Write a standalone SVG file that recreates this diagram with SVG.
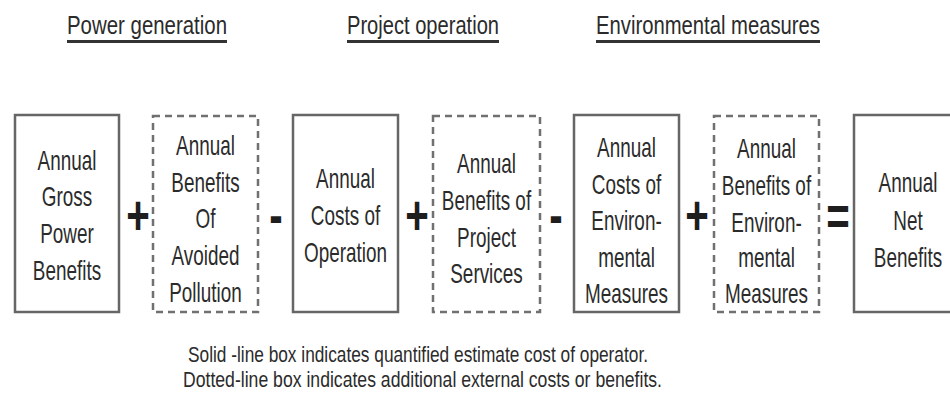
<svg xmlns="http://www.w3.org/2000/svg" width="950" height="406" viewBox="0 0 950 406">
<style>
  .bg { fill: #ffffff; }
  .solid { fill: #ffffff; stroke: #666666; stroke-width: 2.5; }
  .dash { fill: #ffffff; stroke: #707070; stroke-width: 2.5; stroke-dasharray: 7 5; }
  .t { font-family: "Liberation Sans", Arial, sans-serif; font-size: 27px; fill: #2b2b2b; text-anchor: middle; }
  .op { font-family: "Liberation Sans", Arial, sans-serif; font-size: 56px; font-weight: bold; fill: #1e1e1e; text-anchor: middle; }
  .hd { font-family: "Liberation Sans", Arial, sans-serif; font-size: 26px; fill: #2b2b2b; }
  .ul { stroke: #333333; stroke-width: 3; }
  .ft { font-family: "Liberation Sans", Arial, sans-serif; font-size: 22px; fill: #2b2b2b; }
</style>
<rect class="bg" x="0" y="0" width="950" height="406"/>

<g id="headers">
  <text class="hd" x="67" y="34" textLength="160" lengthAdjust="spacingAndGlyphs">Power generation</text>
  <line class="ul" x1="67" y1="41.5" x2="227" y2="41.5"/>
  <text class="hd" x="347" y="34" textLength="152" lengthAdjust="spacingAndGlyphs">Project operation</text>
  <line class="ul" x1="347" y1="41.5" x2="499" y2="41.5"/>
  <text class="hd" x="596" y="34" textLength="224" lengthAdjust="spacingAndGlyphs">Environmental measures</text>
  <line class="ul" x1="596" y1="41.5" x2="820" y2="41.5"/>
</g>

<g id="box-gross-power">
  <rect class="solid" x="15" y="115" width="104" height="197"/>
  <text class="t" transform="translate(67 0) scale(0.7 1)"><tspan x="0" y="170">Annual</tspan><tspan x="0" y="206">Gross</tspan><tspan x="0" y="243">Power</tspan><tspan x="0" y="280">Benefits</tspan></text>
</g>

<g id="box-avoided-pollution">
  <rect class="dash" x="153" y="116" width="105" height="196"/>
  <text class="t" transform="translate(205.5 0) scale(0.7 1)"><tspan x="0" y="155">Annual</tspan><tspan x="0" y="192">Benefits</tspan><tspan x="0" y="228">Of</tspan><tspan x="0" y="265">Avoided</tspan><tspan x="0" y="302">Pollution</tspan></text>
</g>

<g id="box-costs-operation">
  <rect class="solid" x="293" y="115" width="105" height="197"/>
  <text class="t" transform="translate(345.5 0) scale(0.7 1)"><tspan x="0" y="188">Annual</tspan><tspan x="0" y="225">Costs of</tspan><tspan x="0" y="262">Operation</tspan></text>
</g>

<g id="box-project-services">
  <rect class="dash" x="433" y="116" width="107" height="196"/>
  <text class="t" transform="translate(486.5 0) scale(0.7 1)"><tspan x="0" y="173">Annual</tspan><tspan x="0" y="210">Benefits of</tspan><tspan x="0" y="247">Project</tspan><tspan x="0" y="283">Services</tspan></text>
</g>

<g id="box-costs-env">
  <rect class="solid" x="574" y="115" width="105" height="197"/>
  <text class="t" transform="translate(626.5 0) scale(0.7 1)"><tspan x="0" y="157">Annual</tspan><tspan x="0" y="194">Costs of</tspan><tspan x="0" y="230">Environ-</tspan><tspan x="0" y="267">mental</tspan><tspan x="0" y="303">Measures</tspan></text>
</g>

<g id="box-benefits-env">
  <rect class="dash" x="714" y="116" width="105" height="196"/>
  <text class="t" transform="translate(766.5 0) scale(0.7 1)"><tspan x="0" y="158">Annual</tspan><tspan x="0" y="195">Benefits of</tspan><tspan x="0" y="232">Environ-</tspan><tspan x="0" y="267">mental</tspan><tspan x="0" y="303">Measures</tspan></text>
</g>

<g id="box-net-benefits">
  <rect class="solid" x="854" y="115" width="108" height="197"/>
  <text class="t" transform="translate(908 0) scale(0.7 1)"><tspan x="0" y="192">Annual</tspan><tspan x="0" y="230">Net</tspan><tspan x="0" y="267">Benefits</tspan></text>
</g>

<g id="connectors">
  <text class="op" transform="translate(138 234) scale(0.72 1)" x="0" y="0">+</text>
  <text class="op" transform="translate(276 234) scale(0.72 1)" x="0" y="0">-</text>
  <text class="op" transform="translate(417 234) scale(0.72 1)" x="0" y="0">+</text>
  <text class="op" transform="translate(556 234) scale(0.72 1)" x="0" y="0">-</text>
  <text class="op" transform="translate(697 234) scale(0.72 1)" x="0" y="0">+</text>
  <text class="op" transform="translate(838 234.5) scale(0.72 1)" x="0" y="0">=</text>
</g>

<g id="legend">
  <text class="ft" x="188" y="362" textLength="460" lengthAdjust="spacingAndGlyphs">Solid -line box indicates quantified estimate cost of operator.</text>
  <text class="ft" x="183" y="387" textLength="479" lengthAdjust="spacingAndGlyphs">Dotted-line box indicates additional external costs or benefits.</text>
</g>
</svg>
